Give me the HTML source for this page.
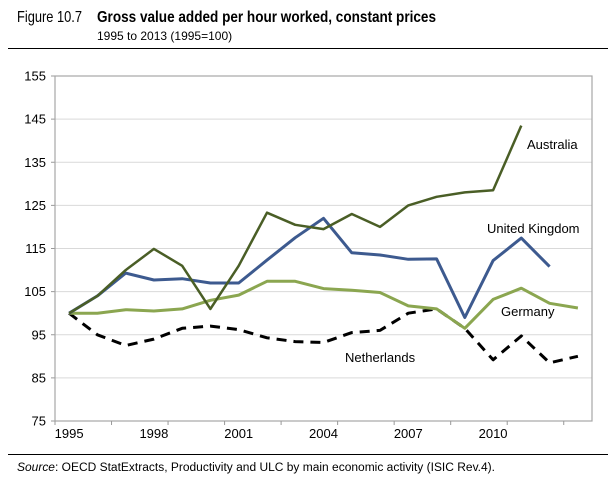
<!DOCTYPE html>
<html><head><meta charset="utf-8"><style>
body{margin:0;background:#fff;width:616px;height:480px;overflow:hidden;font-family:"Liberation Sans",Arial,sans-serif}
svg{display:block}
</style></head><body>
<svg id="c" width="616" height="480">
<text x="17" y="22" font-size="16" fill="#000" textLength="65" lengthAdjust="spacingAndGlyphs">Figure 10.7</text>
<text x="97" y="22" font-size="16" font-weight="bold" fill="#000" textLength="339" lengthAdjust="spacingAndGlyphs">Gross value added per hour worked, constant prices</text>
<text x="97" y="40" font-size="12" fill="#000">1995 to 2013 (1995=100)</text>
<line x1="8" y1="48.5" x2="608" y2="48.5" stroke="#000" stroke-width="1"/>
<line x1="8" y1="454.5" x2="608" y2="454.5" stroke="#000" stroke-width="1"/>
<text x="17" y="471" font-size="11.5" fill="#000" textLength="478" lengthAdjust="spacingAndGlyphs"><tspan font-style="italic">Source</tspan>: OECD StatExtracts, Productivity and ULC by main economic activity (ISIC Rev.4).</text>
<g id="plot"></g>
</svg>
<script>
const years=[1995,1996,1997,1998,1999,2000,2001,2002,2003,2004,2005,2006,2007,2008,2009,2010,2011,2012,2013];
const yTicks=[75,85,95,105,115,125,135,145,155];
const xLabels=[1995,1998,2001,2004,2007,2010];
const australia=[100,104,110,114.9,111,101,111,123.3,120.5,119.5,123,120,125,127,128,128.5,143.5];
const uk=[100,104,109.3,107.7,108,107,107,112.3,117.5,122,114,113.5,112.5,112.6,99,112.2,117.4,110.8];
const germany=[100,100,100.8,100.5,101,103,104.2,107.4,107.4,105.7,105.3,104.8,101.7,101,96.5,103.2,105.8,102.3,101.2];
const netherlands=[100,95,92.5,94,96.5,97,96.2,94.3,93.4,93.2,95.5,96,100,101,96.5,89.2,94.7,88.5,90];

const L=55,R=592,T=76,B=421,ymin=75,ymax=155;
const bw=(R-L)/years.length;
const xs=i=>L+bw*(i+0.5);
const ys=v=>B-(v-ymin)/(ymax-ymin)*(B-T);
const NS="http://www.w3.org/2000/svg";
const g=document.getElementById('plot');
function mk(t,a){const e=document.createElementNS(NS,t);for(const k in a)e.setAttribute(k,a[k]);g.appendChild(e);return e;}

yTicks.forEach(v=>{
  const y=ys(v);
  if(v>ymin&&v<ymax){const gl=mk('line',{x1:L,x2:R,y1:y,y2:y,stroke:'#d9d9d9','stroke-width':1});
  
  }
  const tk=mk('line',{x1:L-4,x2:L,y1:y,y2:y,stroke:'#999'});
  
  
  const t=mk('text',{x:L-9,y:y+4.5,'text-anchor':'end','font-size':13,fill:'#000'});
  t.textContent=v;
  
  
});
const frame=mk('rect',{x:L,y:T,width:R-L,height:B-T,fill:'none',stroke:'#a6a6a6','stroke-width':1.2});


for(let i=0;i<=years.length;i+=2){
  const x=L+bw*i;
  const tk=mk('line',{x1:x,x2:x,y1:B,y2:B+4,stroke:'#999'});
  
  
}
xLabels.forEach(yr=>{
  const i=years.indexOf(yr);
  const t=mk('text',{x:xs(i),y:B+17,'text-anchor':'middle','font-size':13,fill:'#000'});
  t.textContent=yr;
  
  
});
function line(data,color,name,dash,w){
  const d=data.map((v,i)=>(i?'L':'M')+xs(i).toFixed(1)+','+ys(v).toFixed(1)).join('');
  const a={d:d,fill:'none',stroke:color,'stroke-width':w,'stroke-linejoin':'round'};
  if(dash)a['stroke-dasharray']=dash;
  const p=mk('path',a);
  
  
}
line(netherlands,'#000','netherlands-line','10,7',3);
line(germany,'#8ba650','germany-line',null,3);
line(uk,'#3d5a8f','united-kingdom-line',null,3);
line(australia,'#4a5e26','australia-line',null,2.5);
function lab(txt,x,y,name){
  const t=mk('text',{x:x,y:y,'font-size':13,fill:'#000'});
  t.textContent=txt;
  
  
}
lab('Australia',527,149,'australia-label');
lab('United Kingdom',487,233,'united-kingdom-label');
lab('Germany',501,316,'germany-label');
lab('Netherlands',345,362,'netherlands-label');
</script>
</body></html>
